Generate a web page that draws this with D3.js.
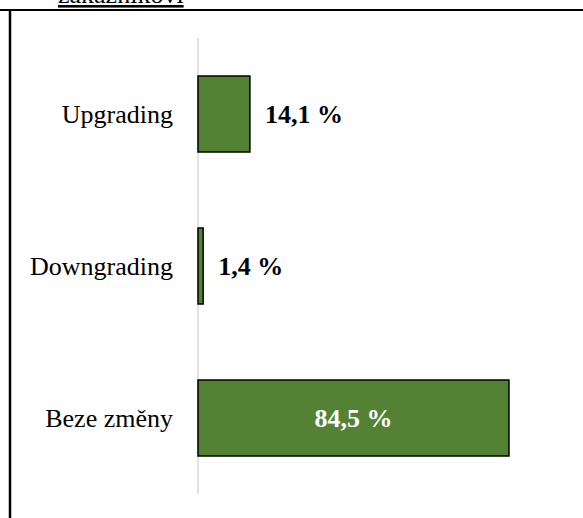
<!DOCTYPE html>
<html>
<head>
<meta charset="utf-8">
<script src="https://cdn.jsdelivr.net/npm/d3@7"></script>
<style>
  body { margin: 0; background: #fff; }
  svg text { font-family: "Liberation Serif", "Times New Roman", serif; }
</style>
</head>
<body>
<div id="chart"></div>
<script>
var svgWidth = 583;
var svgHeight = 518;

// data
var categories = ["Upgrading", "Downgrading", "Beze změny"];
var values = [14.1, 1.4, 84.5];
var valueLabels = ["14,1 %", "1,4 %", "84,5 %"];

var data = categories.map(function (c, i) {
    return { cat: c, value: values[i], label: valueLabels[i] };
});

var svg = d3.select("#chart")
    .append("svg")
    .attr("width", svgWidth)
    .attr("height", svgHeight);

// frame of the surrounding table
svg.append("line")
    .attr("x1", 0).attr("x2", svgWidth)
    .attr("y1", 10).attr("y2", 10)
    .attr("stroke", "#000").attr("stroke-width", 2);
svg.append("line")
    .attr("x1", 10).attr("x2", 10)
    .attr("y1", 9).attr("y2", svgHeight)
    .attr("stroke", "#000").attr("stroke-width", 2.5);

// cut-off heading above
svg.append("text")
    .attr("x", 58)
    .attr("y", 3)
    .attr("font-size", "26px")
    .attr("text-decoration", "underline")
    .text("zákazníkovi");

// scales
var xScale = d3.scaleLinear()
    .domain([0, 100])
    .range([198, 566]);

var yScale = d3.scaleBand()
    .domain(categories)
    .range([38, 494])
    .paddingInner(0.5)
    .paddingOuter(0.25);

// vertical axis line
svg.append("line")
    .attr("x1", xScale(0)).attr("x2", xScale(0))
    .attr("y1", yScale.range()[0]).attr("y2", yScale.range()[1])
    .attr("stroke", "#d9d9d9")
    .attr("stroke-width", 1.5);

// bars
svg.selectAll("rect.bar")
    .data(data)
    .enter()
    .append("rect")
    .attr("class", "bar")
    .attr("x", xScale(0))
    .attr("y", d => yScale(d.cat))
    .attr("width", d => xScale(d.value) - xScale(0))
    .attr("height", yScale.bandwidth())
    .attr("fill", "#548235")
    .attr("stroke", "#000")
    .attr("stroke-width", 1.5);

// category labels
svg.selectAll("text.cat")
    .data(data)
    .enter()
    .append("text")
    .attr("class", "cat")
    .attr("x", xScale(0) - 25)
    .attr("y", d => yScale(d.cat) + yScale.bandwidth() / 2)
    .attr("dy", "0.35em")
    .attr("text-anchor", "end")
    .attr("font-size", "26px")
    .attr("fill", "#000")
    .text(d => d.cat);

// value labels
svg.selectAll("text.val")
    .data(data)
    .enter()
    .append("text")
    .attr("class", "val")
    .attr("x", d => d.value > 50 ? (xScale(0) + xScale(d.value)) / 2 : xScale(d.value) + 15)
    .attr("y", d => yScale(d.cat) + yScale.bandwidth() / 2)
    .attr("dy", "0.35em")
    .attr("text-anchor", d => d.value > 50 ? "middle" : "start")
    .attr("font-size", "26px")
    .attr("font-weight", "bold")
    .attr("fill", d => d.value > 50 ? "#fff" : "#000")
    .text(d => d.label);
</script>
</body>
</html>
